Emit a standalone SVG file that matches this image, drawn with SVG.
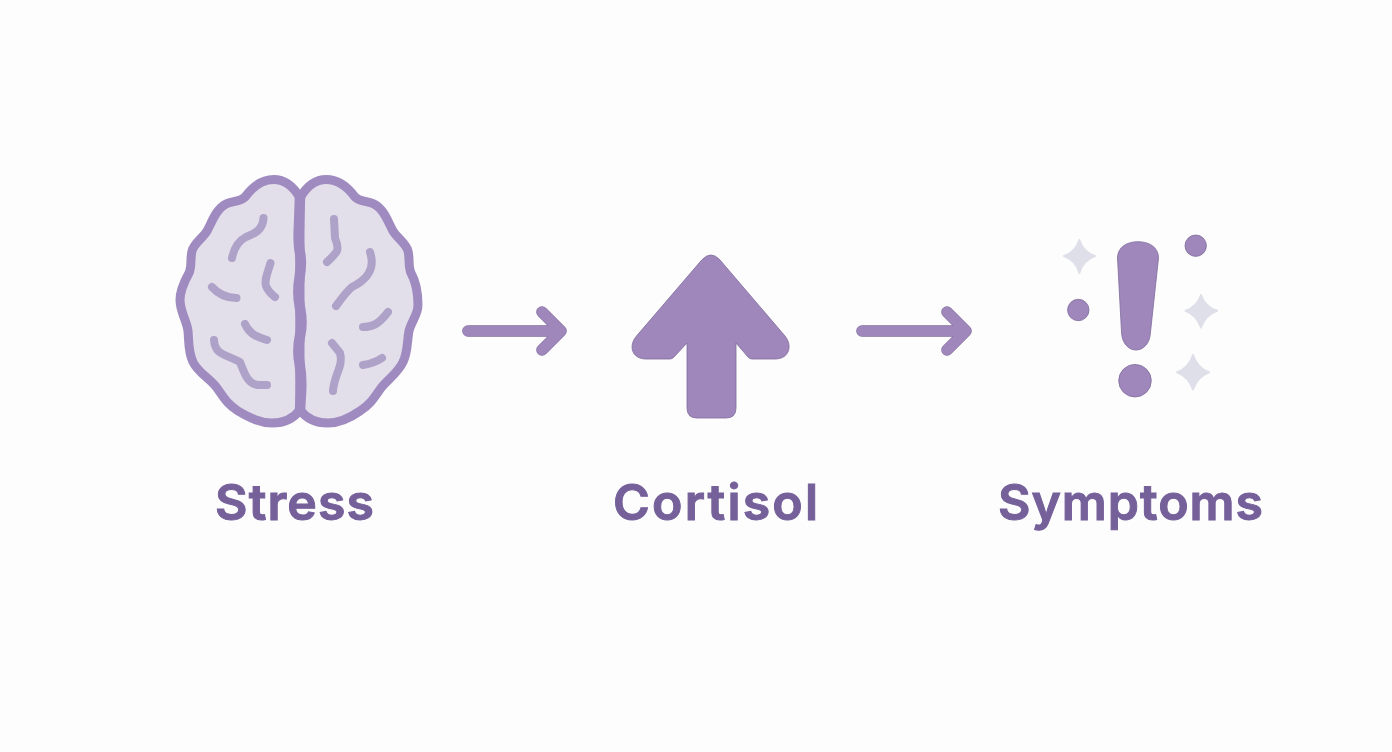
<svg xmlns="http://www.w3.org/2000/svg" width="1392" height="752" viewBox="0 0 1392 752">
<style>
.label{font-family:"Inter","Liberation Sans",sans-serif;font-weight:600;font-size:50px;fill:#75609A;stroke:#75609A;stroke-width:1}
.solid{fill:#9F87BB;stroke:#7F6C9C;stroke-width:.8}
.spark{fill:#DFDFEA;stroke:#DFDFEA;stroke-width:2;stroke-linejoin:round}
.lobe{fill:#E2DEEA;stroke:#A08BC0;stroke-width:9;stroke-linejoin:round}
.sulcus{fill:none;stroke:#AEA2C8;stroke-width:8;stroke-linecap:round;stroke-linejoin:round}
.conn{fill:none;stroke:#7F6C9C;stroke-width:11.6;stroke-linecap:round;stroke-linejoin:round}
.conn2{fill:none;stroke:#9F87BB;stroke-width:10.4;stroke-linecap:round;stroke-linejoin:round}
</style>
<rect width="1392" height="752" fill="#FDFDFD"/>
<g id="node-stress">
<path class="lobe" d="M300 198C286 173 262 174 245 197C240 202 232 201 226 204C216 209 212 222 207 231C203 238 194 243 192 251C190 259 192 267 189 273C184 282 180 291 180 300C180 312 187 321 188 331C189 341 188 352 193 362C198 373 210 378 217 388C224 398 228 405 238 411C250 418 260 423 272 423C284 423 294 418 300 410Z"/>
<path class="lobe" d="M300 198C314 173 338 174 355 197C360 202 368 201 374 204C384 209 388 222 393 231C397 238 406 243 408 251C410 259 408 267 411 273C416 282 418 295 418 305C418 315 411 322 409 331C407 341 408 352 403 362C398 373 388 379 381 388C374 398 370 405 360 411C350 418 340 423 328 423C316 423 306 418 300 410Z"/>
<path fill="none" stroke="#A08BC0" stroke-width="10.500" stroke-linecap="round" d="M300 197L299 225Q298 243 300 253Q302 263 299.500 278Q297 293 300 308Q303 323 300 336Q297 350 299.500 363Q302 377 301 393L300 410"/>
<path class="sulcus" d="M263.500 218C263 230 254 234 246 237C238 241 234 248 232 258"/>
<path class="sulcus" d="M270.500 263C268 272 264 280 266 286C268 291 271 294 275 297"/>
<path class="sulcus" d="M212 287C220 296 228 298 236.500 298"/>
<path class="sulcus" d="M245 324C250 335 258 337 267 340"/>
<path class="sulcus" d="M214 340C215 355 225 354 240 362C245 375 248 384 258 385L267 385"/>
<path class="sulcus" d="M334 219L335 238C340 250 338 252 327 262"/>
<path class="sulcus" d="M370 252C376 270 366 280 352 287C346 292 342 298 336 306"/>
<path class="sulcus" d="M388 312C378 325 372 327 363 327"/>
<path class="sulcus" d="M332 343L340 353C344 365 334 375 333 391"/>
<path class="sulcus" d="M363 365C370 364 376 362 382 358"/>
<text class="label" x="215" y="520" textLength="159">Stress</text>
</g>
<g id="connectors">
<path class="conn" d="M468 331H561M542 312L561 331L542 350"/>
<path class="conn2" d="M468 331H561M542 312L561 331L542 350"/>
<path class="conn" d="M862 331H966M947 312L966 331L947 350"/>
<path class="conn2" d="M862 331H966M947 312L966 331L947 350"/>
</g>
<g id="node-cortisol">
<path class="solid" d="M701.700 260Q711 250 720 260L785 336C793 346 789 359 775 359H752Q750 359 748 357L736 343V408Q736 418 726 418H697Q687 418 687 408V343L674 357Q672 359 670 359H646C632 359 628 346 636.500 336Z"/>
<text class="label" x="613" y="520" textLength="205">Cortisol</text>
</g>
<g id="node-symptoms">
<path class="solid" d="M1117.500 258C1117.500 247 1127 241.700 1138 241.700C1149 241.700 1158.500 247 1158.500 258L1150.500 332C1150 344 1143 350 1136 350C1129 350 1122 344 1121.500 332Z"/>
<circle class="solid" cx="1135" cy="380.700" r="16.300"/>
<circle class="solid" cx="1195.700" cy="245.700" r="10.700"/>
<circle class="solid" cx="1078.300" cy="310" r="10.700"/>
<path class="spark" d="M1079.300 240Q1083 252 1095 256Q1083 260 1079.300 273Q1076 260 1064 256Q1076 252 1079.300 240Z"/>
<path class="spark" d="M1201 295Q1205 307 1217 310.700Q1205 315 1201 327.500Q1197 315 1185.500 310.700Q1197 307 1201 295Z"/>
<path class="spark" d="M1193 355Q1197 368 1209 372.300Q1197 377 1193 389.500Q1189 377 1177 372.300Q1189 368 1193 355Z"/>
<text class="label" x="998" y="520" textLength="265">Symptoms</text>
</g>
</svg>
